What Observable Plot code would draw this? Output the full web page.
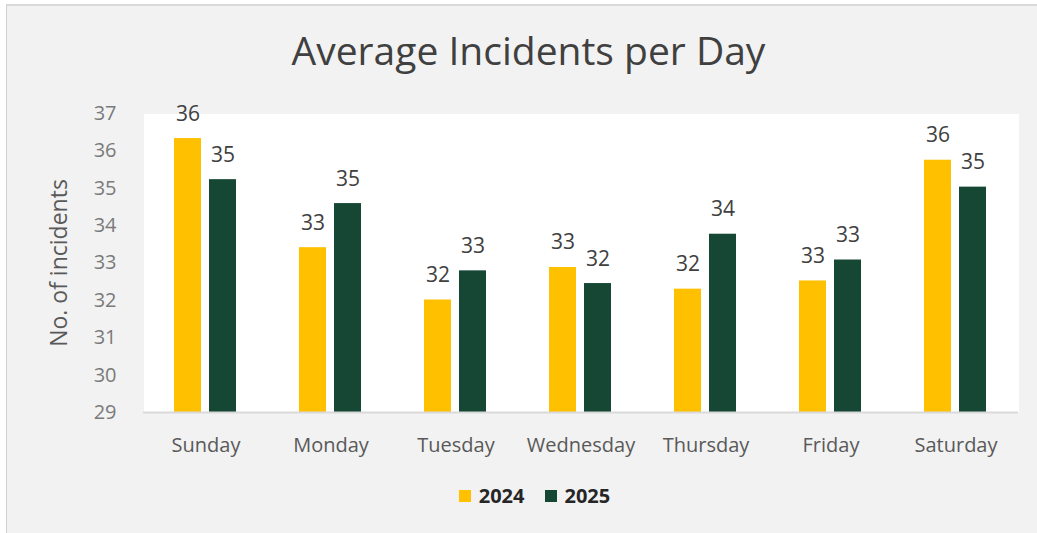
<!DOCTYPE html>
<html><head><meta charset="utf-8">
<script src="https://cdn.jsdelivr.net/npm/d3@7"></script>
<script src="https://cdn.jsdelivr.net/npm/@observablehq/plot@0.6"></script>
<style>
body{margin:0;background:#fff;width:1037px;height:533px;overflow:hidden;position:relative;font-family:"Open Sans",sans-serif;}
#box{position:absolute;left:6px;top:4px;width:1031px;height:529px;background:#f2f2f2;border-left:1px solid #d0d0d0;border-top:2px solid #d9d9d9;box-sizing:border-box;}
#title{position:absolute;left:10px;top:30px;width:1037px;text-align:center;font-size:39px;line-height:1;color:#404040;}
#chart{position:absolute;left:0;top:0;}
#legend{position:absolute;left:16px;top:484px;width:1037px;display:flex;justify-content:center;gap:20px;font-size:20px;font-weight:bold;color:#262626;line-height:24px;}
#legend .item{display:flex;align-items:center;gap:8px;}
#legend .sw{width:12px;height:12px;display:inline-block;}
</style>
</head><body>
<div id="box"></div>
<div id="title">Average Incidents per Day</div>
<div id="chart"></div>
<div id="legend"></div>
<script>
const days = ["Sunday","Monday","Tuesday","Wednesday","Thursday","Friday","Saturday"];
const years = ["2024","2025"];
const values2024 = [36.33, 33.41, 32.01, 32.88, 32.30, 32.52, 35.75];
const values2025 = [35.23, 34.59, 32.79, 32.45, 33.77, 33.08, 35.03];
const yTicks = [29,30,31,32,33,34,35,36,37];
const colors = ["#FFC000","#154734"];

const data = days.flatMap((d,i)=>[
  {day:d, year:years[0], value:values2024[i]},
  {day:d, year:years[1], value:values2025[i]}
]);

const chart = Plot.plot({
  width:1037, height:470,
  marginTop:113, marginBottom:58, marginLeft:141, marginRight:18,
  style:{background:"transparent", fontFamily:"'Open Sans', sans-serif", fontSize:"18px"},
  fx:{domain:days, padding:0},
  x:{domain:years, paddingInner:0.22, paddingOuter:0.85},
  y:{domain:[29,37]},
  color:{domain:years, range:colors},
  marks:[
    Plot.frame({fill:"white", stroke:null, shapeRendering:"crispEdges"}),
    Plot.barY(data,{fx:"day", x:"year", y1:29, y2:"value", fill:"year"}),
    Plot.ruleY([29],{stroke:"#d9d9d9", strokeWidth:2}),
    Plot.text(data,{fx:"day", x:"year", y:"value", text:d=>String(Math.round(d.value)), lineAnchor:"bottom", dy:-18, fill:"#404040", fontSize:21}),
    Plot.axisY({ticks:yTicks, tickSize:0, tickPadding:27, fill:"#7a7a7a", fontSize:20, label:"No. of incidents", labelAnchor:"center", labelArrow:"none", labelOffset:93}),
    Plot.axisFx({anchor:"bottom", tickSize:0, tickPadding:25, fill:"#595959", fontSize:20, label:null}),
    Plot.axisX({ticks:[], label:null})
  ]
});
document.getElementById("chart").append(chart);
d3.select(chart).selectAll("[aria-label='y-axis label'] text").style("font-size","23px").attr("fill","#595959");

const legend = d3.select("#legend");
years.forEach((y,i)=>{
  const it = legend.append("div").attr("class","item");
  it.append("span").attr("class","sw").style("background",colors[i]);
  it.append("span").text(y);
});
</script>
</body></html>
